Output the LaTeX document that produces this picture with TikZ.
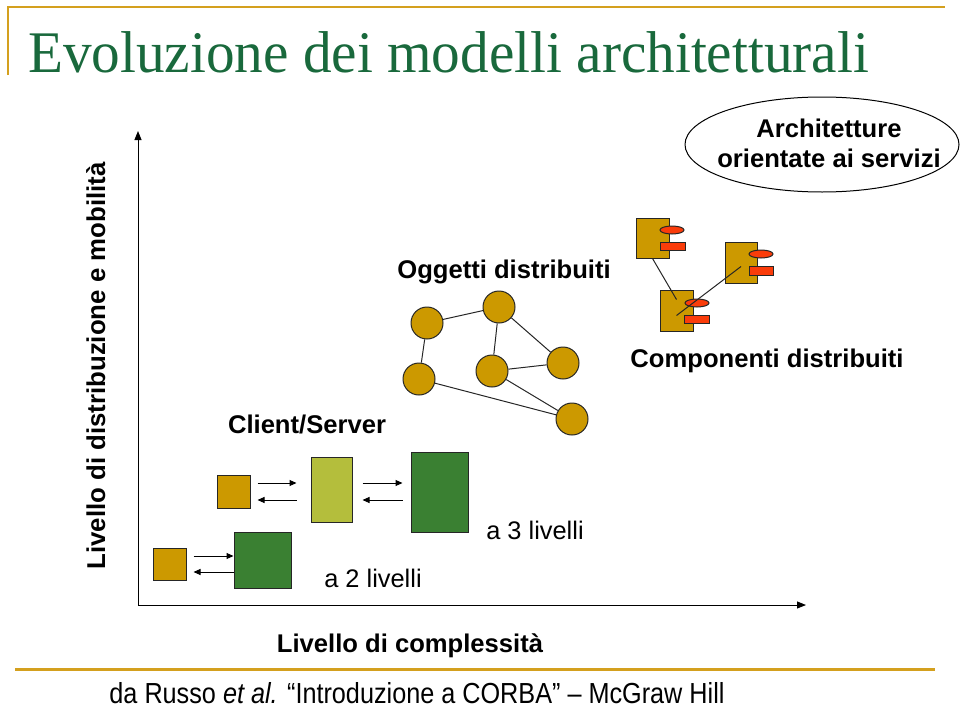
\documentclass[tikz,border=0pt]{standalone}
\usepackage{fontspec}
\setmainfont{Liberation Sans}
\newfontfamily\titlefont{Liberation Serif}
\usetikzlibrary{shapes.geometric,arrows.meta,calc}
\definecolor{goldline}{RGB}{212,160,30}
\definecolor{titlegreen}{RGB}{25,105,60}
\definecolor{goldfill}{RGB}{204,153,0}
\definecolor{darkgreen}{RGB}{58,128,50}
\definecolor{lightgreen}{RGB}{180,190,60}
\definecolor{redfill}{RGB}{250,60,10}
\tikzset{
  lbl/.style={font=\fontsize{25.6pt}{30pt}\selectfont\bfseries, inner sep=0pt, anchor=base},
  plainlbl/.style={font=\fontsize{25.4pt}{30pt}\selectfont, inner sep=0pt, anchor=base},
  boxshape/.style={draw=black!85, line width=1pt, inner sep=0pt, rectangle},
  goldbox/.style={boxshape, fill=goldfill},
  dgbox/.style={boxshape, fill=darkgreen},
  lgbox/.style={boxshape, fill=lightgreen},
  ball/.style={circle, draw=black!85, line width=1pt, fill=goldfill, minimum size=32pt, inner sep=0pt},
  redbox/.style={boxshape, fill=redfill},
  redoval/.style={ellipse, draw=black!85, line width=1pt, fill=redfill, minimum width=24pt, minimum height=8pt, inner sep=0pt},
  sarr/.style={-{Triangle[length=7pt,width=6pt]}, line width=1pt},
  axis/.style={-{Triangle[length=9pt,width=7pt]}, line width=1pt},
  edge/.style={line width=1pt, draw=black!85}
}
\begin{document}
\begin{tikzpicture}[x=1pt,y=-1pt]
\useasboundingbox (0,0) rectangle (960,709);
% frame lines
\draw[goldline, line width=2.5pt] (8,75) -- (8,7) -- (945,7);
\draw[goldline, line width=3pt] (15,669) -- (935,669);
% title
\node[anchor=base west, inner sep=0pt, text=titlegreen] (title) at (28,72)
  {\scalebox{0.97}[1]{\titlefont\fontsize{59pt}{62pt}\selectfont Evoluzione dei modelli architetturali}};
% citation
\node[anchor=base, inner sep=0pt] (cite) at (417,703)
  {\scalebox{0.87}[1]{\fontsize{29pt}{30pt}\selectfont da Russo \textit{et al.} “Introduzione a CORBA” – McGraw Hill}};
% axes
\coordinate (O) at (138,605);
\coordinate (Ytop) at (138,131);
\coordinate (Xend) at (806,605);
\draw[axis] (O) -- (Ytop);
\draw[axis] (O) -- (Xend);
\node[lbl, rotate=90, font=\fontsize{25.8pt}{30pt}\selectfont\bfseries] (ylab) at (105,366) {Livello di distribuzione e mobilità};
\node[lbl] (xlab) at (410,652) {Livello di complessità};
% client/server boxes
\node[goldbox, minimum width=33pt, minimum height=32pt] (gs1) at (169.5,564) {};
\node[dgbox, minimum width=57pt, minimum height=56pt] (gr1) at (262.5,560) {};
\node[goldbox, minimum width=33pt, minimum height=33pt] (gs2) at (233.5,491.5) {};
\node[lgbox, minimum width=41pt, minimum height=65pt] (lg) at (331.5,489.5) {};
\node[dgbox, minimum width=57pt, minimum height=80pt] (dg) at (439.5,492) {};
\draw[sarr] ($(gs1.east)+(7,-8)$) -- ($(gr1.west)+(0,-4)$);
\draw[sarr] ($(gr1.west)+(0,12)$) -- ($(gs1.east)+(7,8)$);
\draw[sarr] ($(gs2.east)+(7,-8.5)$) -- ($(lg.west)+(-14,-6.5)$);
\draw[sarr] ($(lg.west)+(-14,10.5)$) -- ($(gs2.east)+(7,8.5)$);
\draw[sarr] ($(lg.east)+(10,-6.5)$) -- ($(dg.west)+(-8,-9)$);
\draw[sarr] ($(dg.west)+(-8,8)$) -- ($(lg.east)+(10,10.5)$);
\node[lbl] (cs) at (307,433) {Client/Server};
\node[plainlbl] (l2) at (373,587) {a 2 livelli};
\node[plainlbl] (l3) at (535,539) {a 3 livelli};
% distributed objects
\node[ball] (c1) at (427,323) {};
\node[ball] (c2) at (499,307) {};
\node[ball] (c3) at (419,379) {};
\node[ball] (c4) at (492,371) {};
\node[ball] (c5) at (563,363) {};
\node[ball] (c6) at (572,419) {};
\draw[edge] (c1) -- (c2);
\draw[edge] (c1) -- (c3);
\draw[edge] (c2) -- (c4);
\draw[edge] (c2) -- (c5);
\draw[edge] (c4) -- (c5);
\draw[edge] (c4) -- (c6);
\draw[edge] (c3) -- (c6);
\node[lbl] (og) at (504,278) {Oggetti distribuiti};
% components
\node[goldbox, minimum width=33pt, minimum height=40pt] (cA) at (652.5,238) {};
\node[redoval] (eA) at (672,230) {};
\node[redbox, minimum width=25pt, minimum height=8pt] (rA) at (672.5,246) {};
\node[goldbox, minimum width=32pt, minimum height=41pt] (cB) at (741,262.5) {};
\node[redoval] (eB) at (761,254) {};
\node[redbox, minimum width=24pt, minimum height=9pt] (rB) at (761,270.5) {};
\node[goldbox, minimum width=33pt, minimum height=41pt] (cC) at (676.5,310.5) {};
\node[redoval] (eC) at (697,303) {};
\node[redbox, minimum width=25pt, minimum height=8pt] (rC) at (696.5,319) {};
\draw[edge] (cA.south) -- ($(cC.center)+(0,-11)$);
\draw[edge] ($(cC.center)+(0,5)$) -- ($(cB.center)+(0,4)$);
\node[lbl] (comp) at (767,367) {Componenti distribuiti};
% SOA ellipse
\node[ellipse, draw, line width=1pt, minimum width=274pt, minimum height=95pt, inner sep=0pt] (soa) at (822,144.5) {};
\node[lbl, align=center, anchor=center] (soatext) at (829,143) {Architetture\\orientate ai servizi};
\end{tikzpicture}
\end{document}
